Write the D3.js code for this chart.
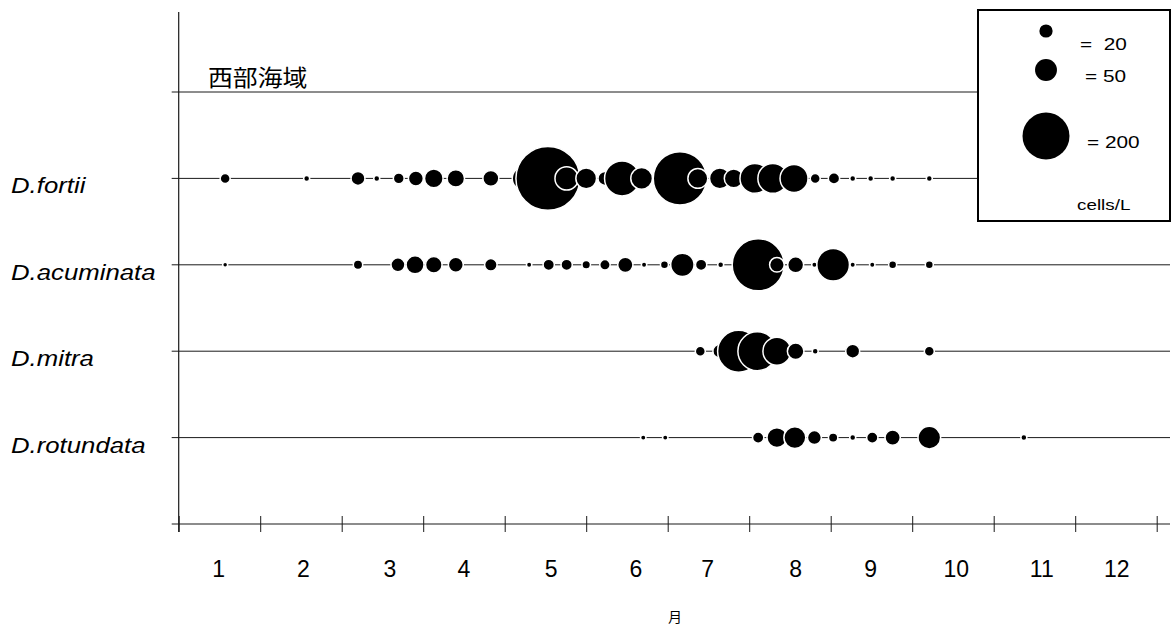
<!DOCTYPE html>
<html>
<head>
<meta charset="utf-8">
<script src="https://cdn.jsdelivr.net/npm/d3@7"></script>
<style>
  html, body { margin: 0; padding: 0; background: #fff; }
  svg { display: block; }
</style>
</head>
<body>
<svg id="chart" width="1176" height="632"></svg>
<script>
// ---------------- data ----------------
const species = ["D.fortii", "D.acuminata", "D.mitra", "D.rotundata"];
const title = "西部海域";
const xTitle = "月";
const monthLabels = ["1","2","3","4","5","6","7","8","9","10","11","12"];
const monthLabelPos = [0.49, 1.53, 2.59, 3.50, 4.57, 5.61, 6.49, 7.57, 8.49, 9.54, 10.59, 11.51];

// sampling dates (month units from start of axis) and densities (cells/L)
const fortiiX = [0.57, 1.57, 2.20, 2.43, 2.70, 2.91, 3.13, 3.40, 3.83, 4.24, 4.53, 4.76, 5.00, 5.23, 5.44, 5.68, 6.15, 6.37, 6.64, 6.81, 7.07, 7.29, 7.55, 7.81, 8.04, 8.27, 8.49, 8.76, 9.21];
const fortiiV = [12, 4.7, 22, 4.7, 14, 25, 37, 33, 28, 59, 350, 56, 45, 22, 117, 49, 252, 42, 45, 38, 88, 88, 78, 12, 15, 4.7, 4.7, 4.7, 4.7];

const acuminataX = [0.57, 2.20, 2.69, 2.90, 3.13, 3.40, 3.83, 4.30, 4.54, 4.76, 5.00, 5.23, 5.48, 5.71, 5.96, 6.18, 6.41, 6.65, 7.11, 7.34, 7.57, 7.80, 8.03, 8.27, 8.51, 8.76, 9.21];
const acuminataV = [3.4, 10.7, 22, 35, 30, 25, 18, 3.9, 15, 15, 9, 13, 26, 3.9, 8, 56, 15, 4.7, 240, 24, 28, 3.9, 103, 3.9, 3.9, 8, 8];

const mitraX = [6.40, 6.64, 6.87, 7.10, 7.34, 7.57, 7.81, 8.27, 9.21];
const mitraV = [12, 22, 163, 142, 78, 30, 4.7, 22, 12];

const rotundataX = [5.70, 5.97, 7.11, 7.34, 7.56, 7.80, 8.03, 8.27, 8.51, 8.76, 9.21, 10.37];
const rotundataV = [3.9, 3.9, 15, 42, 50, 22, 10.7, 4.7, 15, 26, 53, 4.7];

const legendValues = [20, 50, 200];
const legendLabels = ["=  20", "= 50", "= 200"];
const legendUnit = "cells/L";

// ---------------- drawing ----------------
const svg = d3.select("#chart");
const latin = "'Liberation Sans', Arial, sans-serif";
const cjk = "'Noto Sans CJK JP', 'Noto Sans CJK SC', sans-serif";
const ink = "#1a1a1a";

const x = d3.scaleLinear().domain([0, 12]).range([178.7, 1156.7]);
const y = d3.scaleLinear().domain([0, 5]).range([92, 524]);
const r = d3.scalePow().exponent(0.55).domain([0, 200]).range([0, 23.5]);

const legendBox = { x0: 978, y0: 10, x1: 1170, y1: 221 };

const rows = [
  { name: species[0], xs: fortiiX, vs: fortiiV, end: legendBox.x0 },
  { name: species[1], xs: acuminataX, vs: acuminataV, end: 1170 },
  { name: species[2], xs: mitraX, vs: mitraV, end: 1170 },
  { name: species[3], xs: rotundataX, vs: rotundataV, end: 1170 }
];

// y axis
svg.append("line")
  .attr("x1", x(0)).attr("x2", x(0))
  .attr("y1", 12).attr("y2", 532)
  .attr("stroke", ink).attr("stroke-width", 1.2);

// top separator line
svg.append("line")
  .attr("x1", x(0) - 7).attr("x2", legendBox.x0)
  .attr("y1", y(0)).attr("y2", y(0))
  .attr("stroke", ink).attr("stroke-width", 1);

// title
svg.append("text")
  .attr("transform", `translate(208,86) scale(1.08,1)`)
  .attr("font-family", cjk).attr("font-size", 23)
  .attr("fill", "#000")
  .text(title);

// x axis
const xAxis = d3.axisBottom(x)
  .tickValues(d3.range(0, 13))
  .tickSize(0)
  .tickFormat("");
const axG = svg.append("g")
  .attr("transform", `translate(0,${y(5)})`)
  .call(xAxis);
axG.select(".domain").remove();
axG.append("line")
  .attr("x1", x(0) - 7).attr("x2", 1170)
  .attr("stroke", ink).attr("stroke-width", 1.2);
axG.selectAll(".tick").append("line")
  .attr("y1", -8).attr("y2", 8)
  .attr("stroke", ink).attr("stroke-width", 1);

svg.append("g").selectAll("text")
  .data(monthLabels)
  .join("text")
  .attr("x", (d, i) => x(monthLabelPos[i]))
  .attr("y", 577)
  .attr("text-anchor", "middle")
  .attr("font-family", latin).attr("font-size", 23)
  .attr("fill", "#000")
  .text(d => d);

svg.append("text")
  .attr("x", 675).attr("y", 622)
  .attr("text-anchor", "middle")
  .attr("font-family", cjk).attr("font-size", 14)
  .attr("fill", "#000")
  .text(xTitle);

// row lines + labels
rows.forEach((row, i) => {
  const yy = y(i + 1);
  svg.append("line")
    .attr("x1", x(0) - 7).attr("x2", row.end)
    .attr("y1", yy).attr("y2", yy)
    .attr("stroke", ink).attr("stroke-width", 1);
  svg.append("text")
    .attr("transform", `translate(11,${yy + 15}) scale(1.17,1)`)
    .attr("font-family", latin).attr("font-size", 22)
    .attr("font-style", "italic")
    .attr("fill", "#000")
    .text(row.name);
});

// bubbles
rows.forEach((row, i) => {
  const yy = y(i + 1);
  const pts = row.xs.map((d, j) => ({ m: d, v: row.vs[j] }));
  svg.append("g").selectAll("circle")
    .data(pts)
    .join("circle")
    .attr("cx", d => x(d.m))
    .attr("cy", yy)
    .attr("r", d => r(d.v))
    .attr("fill", "#000")
    .attr("stroke", "#fff")
    .attr("stroke-width", 1.5);
});

// legend
svg.append("rect")
  .attr("x", legendBox.x0).attr("y", legendBox.y0)
  .attr("width", legendBox.x1 - legendBox.x0)
  .attr("height", legendBox.y1 - legendBox.y0)
  .attr("fill", "#fff")
  .attr("stroke", "#000").attr("stroke-width", 2);

const legCy = [31, 70, 136];
const legTx = [1080, 1085, 1087];
const legTy = [50, 82, 148];
const lg = svg.append("g");
lg.selectAll("circle")
  .data(legendValues)
  .join("circle")
  .attr("cx", 1046)
  .attr("cy", (d, i) => legCy[i])
  .attr("r", d => r(d))
  .attr("fill", "#000");
lg.selectAll("text")
  .data(legendLabels)
  .join("text")
  .attr("transform", (d, i) => `translate(${legTx[i]},${legTy[i]}) scale(1.3,1)`)
  .attr("font-family", latin).attr("font-size", 16)
  .attr("fill", "#000")
  .attr("xml:space", "preserve")
  .style("white-space", "pre")
  .text(d => d);
lg.append("text")
  .attr("transform", `translate(1077,210) scale(1.3,1)`)
  .attr("font-family", latin).attr("font-size", 14.5)
  .attr("fill", "#000")
  .text(legendUnit);
</script>
</body>
</html>
